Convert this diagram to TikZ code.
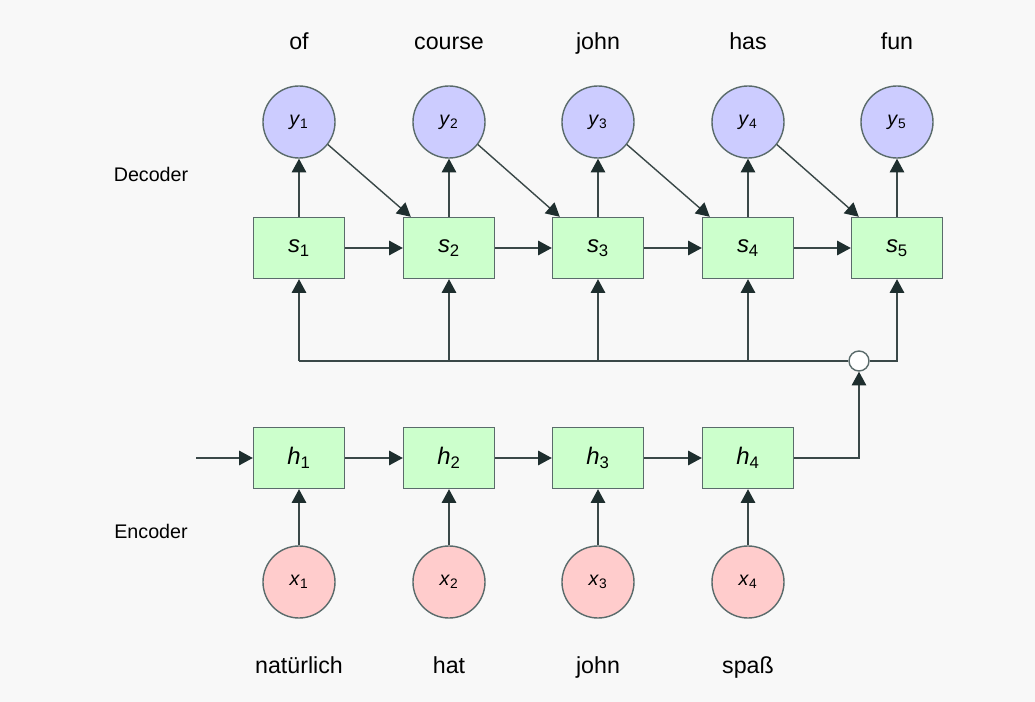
\documentclass[tikz,border=0pt]{standalone}
\usepackage{fontspec}
\setmainfont{Liberation Sans}
\usetikzlibrary{arrows.meta}
\definecolor{bgcol}{HTML}{F8F8F8}
\definecolor{edgecol}{HTML}{5A6B6B}
\definecolor{tipcol}{HTML}{1E2E2E}
\definecolor{linecol}{HTML}{3A4848}
\definecolor{outfill}{HTML}{CCCCFF}
\definecolor{cellfill}{HTML}{CCFFCC}
\definecolor{infill}{HTML}{FFCCCC}
\begin{document}
\begin{tikzpicture}[x=0.025cm, y=-0.025cm,
    cell/.style={rectangle, draw=edgecol, line width=1pt, fill=cellfill, minimum width=2.275cm, minimum height=1.525cm, font=\fontsize{17}{20}\selectfont},
    outnode/.style={circle, draw=edgecol, line width=1pt, fill=outfill, minimum size=1.8cm, font=\fontsize{14}{17}\selectfont},
    innode/.style={outnode, fill=infill},
    junc/.style={circle, draw=edgecol, line width=1pt, fill=white, minimum size=0.5cm, inner sep=0pt},
    word/.style={anchor=base, font=\fontsize{16.5}{20}\selectfont},
    side/.style={anchor=base, font=\fontsize{14}{17}\selectfont},
    link/.style={-{Triangle[width=0.36cm,length=0.34cm,color=tipcol]}, draw=linecol, line width=1pt},
    bus/.style={draw=linecol, line width=1pt}]
    % Canvas
    \fill[bgcol] (0,0) rectangle (1035,702);
    % Decoder
    \node[side] (dec) at (151,182) {Decoder};
    \foreach \i/\x/\w in {1/299/of,2/449/course,3/598/john,4/748/has,5/897/fun} {
        \node[word] (t\i) at (\x,50) {\w};
        \node[outnode] (y\i) at (\x,122) {\textit{y}\textsubscript{\i}};
        \node[cell] (s\i) at (\x,248) {\textit{s}\textsubscript{\i}};
        \coordinate (b\i) at (\x,361);
        \draw[link] (s\i) -- (y\i);
    }
    \foreach \i/\j in {1/2,2/3,3/4,4/5} {
        \draw[link] (s\i) -- (s\j);
        \draw[link] (y\i.-38) -- ([xshift=0.2cm]s\j.north west);
    }
    % Encoder
    \node[side] (enc) at (151,538) {Encoder};
    \foreach \i/\x/\w in {1/299/natürlich,2/449/hat,3/598/john,4/748/spaß} {
        \node[cell] (h\i) at (\x,458) {\textit{h}\textsubscript{\i}};
        \node[innode] (x\i) at (\x,582) {\textit{x}\textsubscript{\i}};
        \node[word] (w\i) at (\x,673) {\w};
        \draw[link] (x\i) -- (h\i);
    }
    \foreach \i/\j in {1/2,2/3,3/4} {
        \draw[link] (h\i) -- (h\j);
    }
    \coordinate (in) at (196,458);
    \draw[link] (in) -- (h1);
    % Context bus
    \node[junc] (j) at (859,361) {};
    \draw[link] (h4.east) -| (j.south);
    \draw[bus] (j.west) -- (b1);
    \foreach \i in {1,2,3,4} {
        \draw[link] (b\i) -- (s\i);
    }
    \draw[link] (j.east) -| (s5.south);
\end{tikzpicture}
\end{document}
